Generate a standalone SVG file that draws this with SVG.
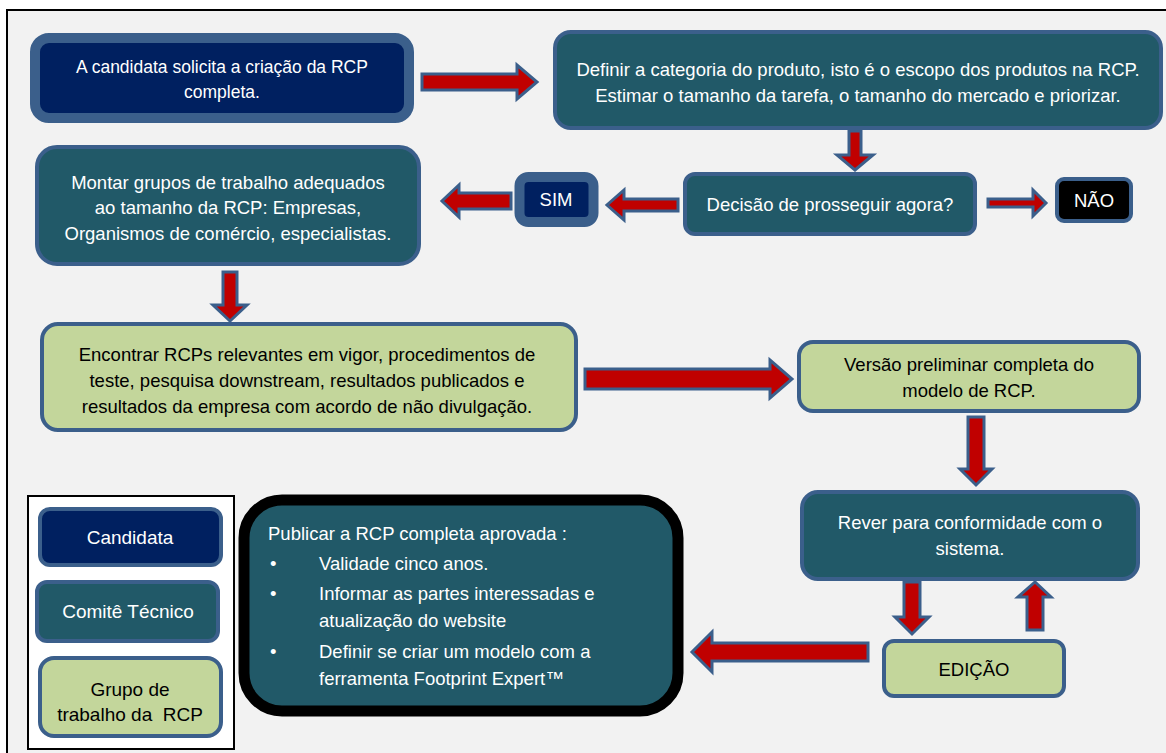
<svg xmlns="http://www.w3.org/2000/svg" width="1166" height="753" viewBox="0 0 1166 753">
<style>
.frame{fill:#f2f2f2;stroke:#000;stroke-width:2}
.navy{fill:#002060;stroke:#3b5f8b}
.teal{fill:#215968;stroke:#3b5f8b;stroke-width:4}
.green{fill:#c3d69b;stroke:#3b5f8b;stroke-width:4}
.blk{fill:#000;stroke:#3b5f8b;stroke-width:4}
.arr{fill:#c00000;stroke:#3b5f8b;stroke-width:3;stroke-linejoin:miter}
text{font-family:"Liberation Sans",Arial,sans-serif;font-size:18.5px;fill:#fff;text-anchor:middle}
text.dk{fill:#000}
text.l{text-anchor:start}
text.s{font-size:17.5px}
text.lg{font-size:19px}
</style>
<rect x="0" y="0" width="1166" height="753" fill="#fff"/>
<rect class="frame" x="7" y="10" width="1172" height="760"/>

<g id="connectors">
<polygon class="arr" points="422,74 517,74 517,65 537,82 517,99 517,90 422,90"/>
<polygon class="arr" points="849,131 861,131 861,155 873,155 855,170 837,155 849,155"/>
<polygon class="arr" points="988,199 1033,199 1033,190 1046,203 1033,216 1033,207 988,207"/>
<polygon class="arr" points="678,199 624,199 624,190 607,205 624,220 624,211 678,211"/>
<polygon class="arr" points="511,193 459,193 459,185 442,201 459,217 459,209 511,209"/>
<polygon class="arr" points="223,272 237,272 237,305 247,305 230,321 213,305 223,305"/>
<polygon class="arr" points="585,369 770,369 770,360 792,379 770,398 770,389 585,389"/>
<polygon class="arr" points="968,417 984,417 984,469 992,469 976,485 960,469 968,469"/>
<polygon class="arr" points="904,582 920,582 920,617 929,617 912,634 895,617 904,617"/>
<polygon class="arr" points="1027,630 1043,630 1043,597 1051,597 1035,582 1018,597 1027,597"/>
<polygon class="arr" points="868,643 712,643 712,632 692,652 712,672 712,661 868,661"/>
</g>

<g id="n-candidata">
<rect class="navy" x="35" y="38" width="374" height="80" rx="14" stroke-width="10"/>
<text class="s" x="222" y="73">A candidata solicita a criação da RCP</text>
<text class="s" x="222" y="98">completa.</text>
</g>

<g id="n-definir">
<rect class="teal" x="555" y="32" width="606" height="96" rx="16"/>
<text x="858" y="76">Definir a categoria do produto, isto é o escopo dos produtos na RCP.</text>
<text x="858" y="102">Estimar o tamanho da tarefa, o tamanho do mercado e priorizar.</text>
</g>

<g id="n-decisao">
<rect class="teal" x="685" y="174" width="290" height="60" rx="10"/>
<text x="830" y="211">Decisão de prosseguir agora?</text>
</g>

<g id="n-nao">
<rect class="blk" x="1057" y="179" width="74" height="42" rx="7"/>
<text x="1094" y="207">NÃO</text>
</g>

<g id="n-sim">
<rect class="navy" x="519.5" y="177" width="74" height="45" rx="9" stroke-width="10"/>
<text x="556" y="206">SIM</text>
</g>

<g id="n-montar">
<rect class="teal" x="37" y="147" width="382" height="117" rx="20"/>
<text x="228" y="189">Montar grupos de trabalho adequados</text>
<text x="228" y="214">ao tamanho da RCP: Empresas,</text>
<text x="228" y="240">Organismos de comércio, especialistas.</text>
</g>

<g id="n-encontrar">
<rect class="green" x="42" y="324" width="534" height="106" rx="16"/>
<text class="dk" x="307" y="361">Encontrar RCPs relevantes em vigor, procedimentos de</text>
<text class="dk" x="307" y="387">teste, pesquisa downstream, resultados publicados e</text>
<text class="dk" x="307" y="413">resultados da empresa com acordo de não divulgação.</text>
</g>

<g id="n-versao">
<rect class="green" x="799" y="342" width="340" height="69" rx="14"/>
<text class="dk" x="969" y="371">Versão preliminar completa do</text>
<text class="dk" x="969" y="397">modelo de RCP.</text>
</g>

<g id="n-rever">
<rect class="teal" x="802" y="492" width="336" height="87" rx="16"/>
<text x="970" y="529">Rever para conformidade com o</text>
<text x="970" y="555">sistema.</text>
</g>

<g id="n-edicao">
<rect class="green" x="884" y="641" width="180" height="55" rx="10"/>
<text class="dk" x="974" y="676">EDIÇÃO</text>
</g>

<g id="n-publicar">
<rect x="244" y="500" width="434" height="211" rx="38" fill="#215968" stroke="#000" stroke-width="11"/>
<text class="l" x="268" y="540">Publicar a RCP completa aprovada :</text>
<text class="l" x="270" y="570">•</text>
<text class="l" x="319" y="570">Validade cinco anos.</text>
<text class="l" x="270" y="600">•</text>
<text class="l" x="319" y="600">Informar as partes interessadas e</text>
<text class="l" x="319" y="627">atualização do website</text>
<text class="l" x="270" y="658">•</text>
<text class="l" x="319" y="658">Definir se criar um modelo com a</text>
<text class="l" x="319" y="685">ferramenta Footprint Expert™</text>
</g>

<g id="legend">
<rect x="28" y="496" width="206" height="253" fill="#fff" stroke="#000" stroke-width="2"/>
<g id="l-candidata">
<rect class="navy" x="40" y="509" width="181" height="56" rx="10" stroke-width="4"/>
<text class="lg" x="130" y="544">Candidata</text>
</g>
<g id="l-comite">
<rect class="teal" x="37" y="582" width="181" height="59" rx="10"/>
<text class="lg" x="128" y="618">Comitê Técnico</text>
</g>
<g id="l-grupo">
<rect class="green" x="40" y="658" width="181" height="78" rx="14"/>
<text class="dk lg" x="130" y="696">Grupo de</text>
<text class="dk lg" x="130" y="721" xml:space="preserve">trabalho da  RCP</text>
</g>
</g>
</svg>
